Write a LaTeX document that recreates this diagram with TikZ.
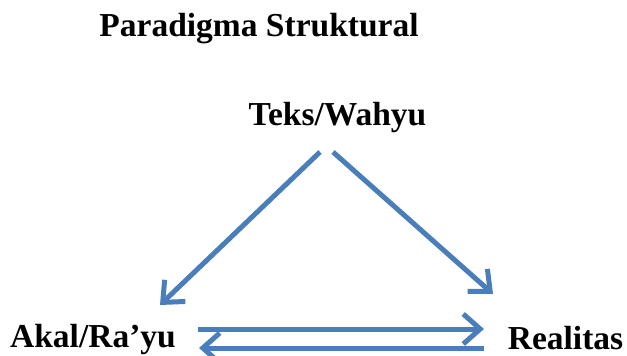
\documentclass[tikz,border=0pt]{standalone}
\usepackage{fontspec}
\setmainfont{Liberation Serif}
\usetikzlibrary{arrows.meta}
\definecolor{arrowblue}{HTML}{4A7EBB}
\tikzset{
  lbl/.style={font=\bfseries\fontsize{33.5}{36}\selectfont, inner sep=0pt, anchor=base},
  conn/.style={draw=arrowblue, line width=5pt, -{Straight Barb[length=17pt,width=30pt]}}
}
\begin{document}
\begin{tikzpicture}[x=1pt,y=-1pt]
\useasboundingbox (0,0) rectangle (627,356);
\node[lbl] (title) at (259,36) {Paradigma Struktural};
\node[lbl] (teks) at (337.5,125) {Teks/Wahyu};
\node[lbl] (akal) at (93,347) {Akal/Ra’yu};
\node[lbl] (real) at (565.5,349) {Realitas};
\coordinate (tl) at (320,152);
\coordinate (tr) at (333,152);
\coordinate (al) at (160,305);
\coordinate (rr) at (493,294);
\coordinate (h1s) at (198,329);
\coordinate (h1e) at (484,329);
\coordinate (h2s) at (484,348);
\coordinate (h2e) at (199,348);
\draw[conn] (tl) -- (al);
\draw[conn] (tr) -- (rr);
\draw[conn] (h1s) -- (h1e);
\draw[conn] (h2s) -- (h2e);
\end{tikzpicture}
\end{document}
